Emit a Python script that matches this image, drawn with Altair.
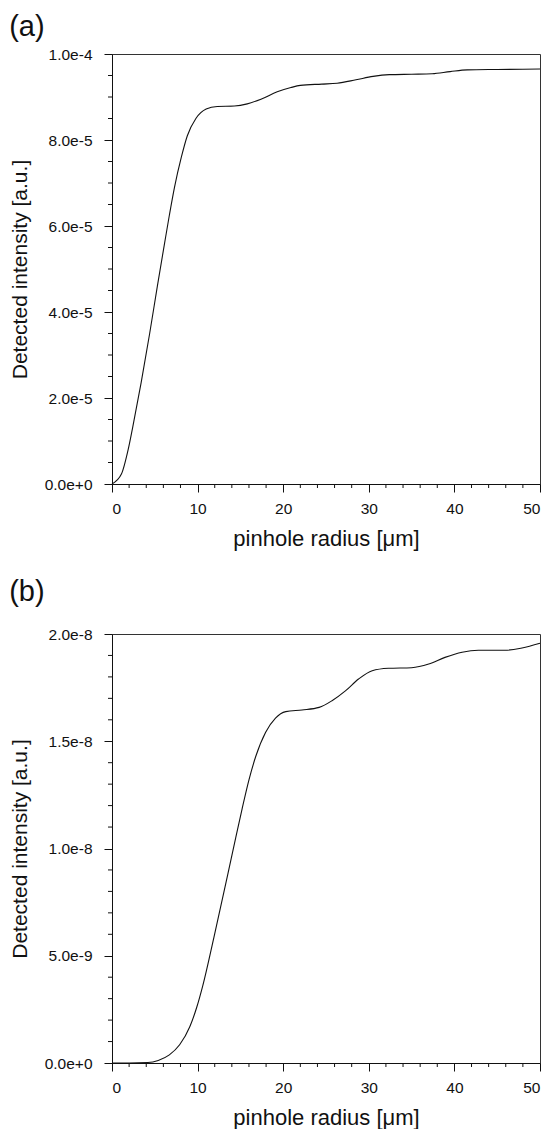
import altair as alt
import pandas as pd

# ---------- data ----------
# panel (a)
radius_a = [0, 1.1, 1.9, 2.4, 3.4, 4.4, 5.3, 6.1, 6.7, 7.3, 8.1, 8.8, 9.8, 11.0,
            12.3, 14.3, 15.8, 17.4, 19.3, 20.9, 22.0, 24.5, 26.3, 28.5, 30.5,
            32.4, 35.0, 37.4, 39.5, 41.5, 45.0, 50.0]
intensity_a = [0.0, 2.3e-6, 8.1e-6, 1.30e-5, 2.35e-5, 3.50e-5, 4.60e-5, 5.55e-5,
               6.25e-5, 6.90e-5, 7.60e-5, 8.10e-5, 8.50e-5, 8.72e-5, 8.78e-5,
               8.79e-5, 8.84e-5, 8.95e-5, 9.12e-5, 9.22e-5, 9.27e-5, 9.30e-5,
               9.32e-5, 9.40e-5, 9.48e-5, 9.52e-5, 9.53e-5, 9.54e-5, 9.59e-5,
               9.63e-5, 9.64e-5, 9.65e-5]

# panel (b)
radius_b = [0, 2.0, 4.2, 5.4, 6.7, 7.9, 9.1, 9.9, 10.6, 11.9, 13.5, 14.45, 15.2,
            16.0, 16.8, 17.95, 19.1, 20.3, 22.2, 24.2, 25.7, 27.3, 28.8, 30.4,
            32.3, 35.0, 37.0, 38.9, 40.9, 42.8, 45.9, 47.9, 50.0]
intensity_b = [0.0, 0.0, 2e-11, 1.2e-10, 3.8e-10, 8.5e-10, 1.70e-9, 2.60e-9,
               3.60e-9, 5.85e-9, 8.75e-9, 1.050e-8, 1.185e-8, 1.320e-8, 1.430e-8,
               1.542e-8, 1.608e-8, 1.638e-8, 1.646e-8, 1.658e-8, 1.689e-8,
               1.736e-8, 1.79e-8, 1.829e-8, 1.840e-8, 1.843e-8, 1.86e-8,
               1.891e-8, 1.915e-8, 1.924e-8, 1.924e-8, 1.935e-8, 1.957e-8]

# axis ticks
x_major = [0, 10, 20, 30, 40, 50]
x_minor = [2, 4, 6, 8, 12, 14, 16, 18, 22, 24, 26, 28, 32, 34, 36, 38, 42, 44, 46, 48]
y_major_a = [0.0, 2e-5, 4e-5, 6e-5, 8e-5, 1e-4]
y_minor_a = [5e-6, 1e-5, 1.5e-5, 2.5e-5, 3e-5, 3.5e-5, 4.5e-5, 5e-5, 5.5e-5,
             6.5e-5, 7e-5, 7.5e-5, 8.5e-5, 9e-5, 9.5e-5]
y_major_b = [0.0, 5e-9, 1e-8, 1.5e-8, 2e-8]
y_minor_b = [1e-9, 2e-9, 3e-9, 4e-9, 6e-9, 7e-9, 8e-9, 9e-9, 1.1e-8, 1.2e-8,
             1.3e-8, 1.4e-8, 1.6e-8, 1.7e-8, 1.8e-8, 1.9e-8]

FONT = "Liberation Sans"
W = 428
INK = "#111111"


def panel(xs, ys, ymax, ymajor, yminor, label, h, toff):
    df = pd.DataFrame({"r": xs, "I": ys})
    xenc = alt.X("r:Q", scale=alt.Scale(domain=[0, 50], nice=False, zero=False),
                 axis=alt.Axis(values=x_major, format="d",
                               title="pinhole radius [μm]"))
    yenc = alt.Y("I:Q", scale=alt.Scale(domain=[0, ymax], nice=False),
                 axis=alt.Axis(values=ymajor, format=".1e",
                               title="Detected intensity [a.u.]"))
    line = alt.Chart(df).mark_line(
        color=INK, strokeWidth=1.1, interpolate="monotone"
    ).encode(x=xenc, y=yenc)
    ytick = alt.Chart(pd.DataFrame({"I": yminor})).mark_rule(
        color=INK, strokeWidth=1
    ).encode(y=yenc, x=alt.value(-4), x2=alt.value(0))
    xtick = alt.Chart(pd.DataFrame({"r": x_minor})).mark_rule(
        color=INK, strokeWidth=1
    ).encode(x=xenc, y=alt.value(h), y2=alt.value(h + 4))
    return alt.layer(line, ytick, xtick).properties(
        width=W, height=h,
        title=alt.TitleParams(label, anchor="start", frame="bounds",
                              fontSize=29, font=FONT, fontWeight="normal",
                              color=INK, offset=toff),
    )


pa = panel(radius_a, intensity_a, 1e-4, y_major_a, y_minor_a, "(a)", 430, 5)
pb = panel(radius_b, intensity_b, 2e-8, y_major_b, y_minor_b, "(b)", 429, 20)

chart = alt.vconcat(pa, pb, spacing=27).properties(
    padding={"left": 0, "top": 4, "right": 0, "bottom": 0}
).configure_view(
    stroke="#333333", strokeWidth=1
).configure_axis(
    grid=False,
    labelFont=FONT, labelFontSize=15.5, labelColor=INK,
    titleFont=FONT, titleFontWeight="normal", titleColor=INK,
    domainColor=INK, tickColor=INK, tickSize=8,
).configure_axisX(
    labelPadding=9, titlePadding=12, titleFontSize=22,
).configure_axisY(
    labelPadding=12, titlePadding=14, titleFontSize=21,
)

chart.save("out.html", embed_options={"renderer": "svg", "actions": False})
